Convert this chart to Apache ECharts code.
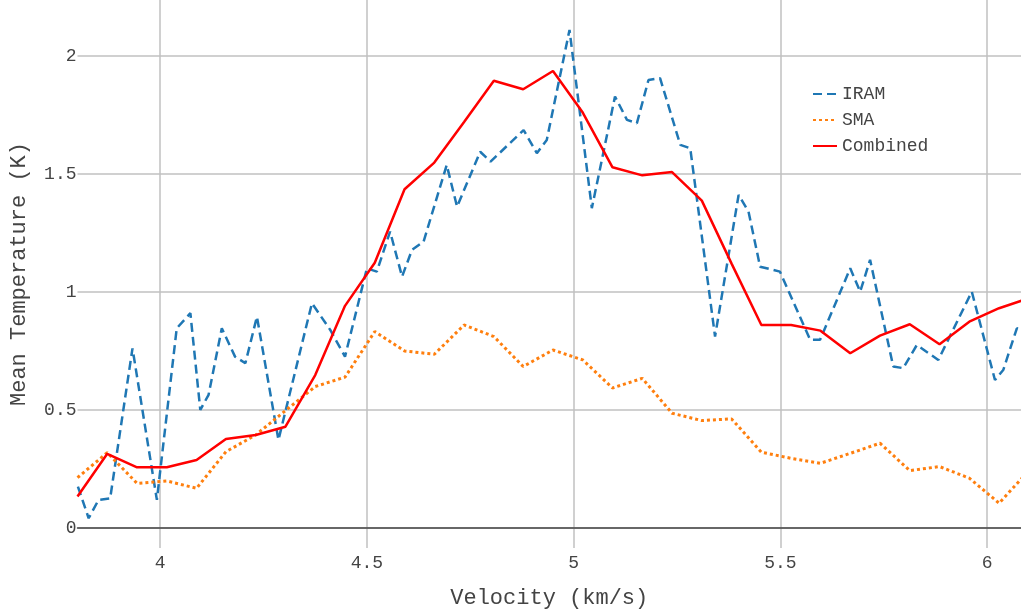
<!DOCTYPE html>
<html>
<head>
<meta charset="utf-8">
<script src="https://cdn.jsdelivr.net/npm/echarts@6/dist/echarts.min.js"></script>
<style>
  html, body { margin: 0; padding: 0; background: #fff; }
  #chart { width: 1021px; height: 613px; }
</style>
</head>
<body>
<div id="chart"></div>
<script>
// IRAM spectrum (finer channels): velocity (km/s) and mean temperature (K)
const iramVelocity = [3.801, 3.827, 3.851, 3.879, 3.933, 3.992, 4.040, 4.073, 4.097, 4.117,
  4.149, 4.181, 4.206, 4.234, 4.286, 4.367, 4.411, 4.447, 4.500, 4.524,
  4.556, 4.585, 4.609, 4.637, 4.693, 4.718, 4.774, 4.799, 4.879, 4.911,
  4.935, 4.990, 5.044, 5.100, 5.129, 5.153, 5.181, 5.209, 5.258, 5.282,
  5.342, 5.399, 5.423, 5.451, 5.499, 5.572, 5.596, 5.669, 5.693, 5.717,
  5.773, 5.797, 5.830, 5.882, 5.963, 6.019, 6.039, 6.072, 6.082];
const iramTemp = [0.175, 0.041, 0.119, 0.125, 0.761, 0.119, 0.846, 0.910, 0.500, 0.564,
  0.846, 0.726, 0.698, 0.895, 0.373, 0.952, 0.840, 0.726, 1.100, 1.086,
  1.256, 1.065, 1.178, 1.213, 1.538, 1.361, 1.594, 1.552, 1.686, 1.588,
  1.644, 2.110, 1.355, 1.828, 1.729, 1.715, 1.898, 1.906, 1.623, 1.609,
  0.811, 1.411, 1.340, 1.107, 1.086, 0.797, 0.797, 1.100, 1.001, 1.136,
  0.684, 0.677, 0.775, 0.712, 1.001, 0.627, 0.669, 0.846, 0.840];

// SMA and combined spectra share the coarser channel grid
const velocity = [3.800, 3.872, 3.944, 4.016, 4.088, 4.159, 4.231, 4.303, 4.375, 4.447,
  4.519, 4.591, 4.663, 4.735, 4.807, 4.878, 4.950, 5.022, 5.094, 5.166,
  5.238, 5.310, 5.382, 5.454, 5.526, 5.597, 5.669, 5.741, 5.813, 5.885,
  5.957, 6.029, 6.101];
const smaTemp = [0.213, 0.319, 0.189, 0.199, 0.168, 0.323, 0.394, 0.497, 0.599, 0.639,
  0.832, 0.750, 0.736, 0.860, 0.811, 0.684, 0.754, 0.712, 0.593, 0.634,
  0.486, 0.455, 0.462, 0.321, 0.295, 0.274, 0.316, 0.359, 0.243, 0.260,
  0.211, 0.105, 0.243];
const combinedTemp = [0.133, 0.314, 0.257, 0.257, 0.288, 0.377, 0.394, 0.429, 0.648, 0.941,
  1.124, 1.435, 1.548, 1.720, 1.895, 1.859, 1.936, 1.760, 1.528, 1.494,
  1.508, 1.387, 1.120, 0.860, 0.860, 0.836, 0.740, 0.815, 0.863, 0.778,
  0.874, 0.931, 0.973];

const seriesNames = ['IRAM', 'SMA', 'Combined'];

const pairs = (xs, ys) => xs.map((x, i) => [x, ys[i]]);

const FONT = '"Liberation Mono", "DejaVu Sans Mono", monospace';
const TEXT = '#444';
const GRID = '#c0c0c0';

const chart = echarts.init(document.getElementById('chart'), null, { renderer: 'canvas' });
chart.setOption({
  backgroundColor: '#fff',
  animation: false,
  textStyle: { fontFamily: FONT, color: TEXT },
  grid: { left: 77.5, right: 0, top: 0, bottom: 65, containLabel: false, outerBoundsMode: 'none' },
  legend: {
    data: seriesNames,
    orient: 'vertical',
    left: 807,
    top: 80,
    itemWidth: 24,
    itemHeight: 14,
    itemGap: 8,
    // line-only keys: the marker dot is made invisible
    itemStyle: { color: 'transparent', borderColor: 'transparent', borderWidth: 0 },
    textStyle: { fontFamily: FONT, fontSize: 18, color: TEXT }
  },
  xAxis: {
    type: 'value',
    min: 3.8,
    max: 6.082,
    minInterval: 0.5,
    maxInterval: 0.5,
    name: 'Velocity (km/s)',
    nameLocation: 'middle',
    nameGap: 39,
    nameTextStyle: { fontFamily: FONT, fontSize: 22, color: TEXT },
    axisLine: { show: true, onZero: true, lineStyle: { color: '#444', width: 1.5 } },
    axisTick: { show: false },
    axisLabel: { fontFamily: FONT, fontSize: 18, color: TEXT, margin: 6, showMinLabel: false, showMaxLabel: false },
    splitLine: { show: true, showMinLine: false, showMaxLine: false, lineStyle: { color: GRID, width: 1.5 } }
  },
  yAxis: {
    type: 'value',
    min: -0.085,
    max: 2.237,
    minInterval: 0.5,
    maxInterval: 0.5,
    name: 'Mean Temperature (K)',
    nameLocation: 'middle',
    nameRotate: 90,
    nameGap: 47,
    nameTextStyle: { fontFamily: FONT, fontSize: 22, color: TEXT },
    axisLine: { show: false, onZero: false },
    axisTick: { show: false },
    axisLabel: { fontFamily: FONT, fontSize: 18, color: TEXT, margin: 1, padding: [7, 0, 0, 0], showMinLabel: false, showMaxLabel: false },
    splitLine: { show: true, showMinLine: false, showMaxLine: false, lineStyle: { color: GRID, width: 1.5 } }
  },
  series: [
    {
      name: seriesNames[0],
      type: 'line',
      data: pairs(iramVelocity, iramTemp),
      symbol: 'none',
      color: '#1f77b4',
      lineStyle: { color: '#1f77b4', width: 2.5, type: [9, 5] },
      z: 3
    },
    {
      name: seriesNames[1],
      type: 'line',
      data: pairs(velocity, smaTemp),
      symbol: 'none',
      color: '#ff7f0e',
      lineStyle: { color: '#ff7f0e', width: 3, type: [3, 3] },
      z: 4
    },
    {
      name: seriesNames[2],
      type: 'line',
      data: pairs(velocity, combinedTemp),
      symbol: 'none',
      color: '#ff0000',
      lineStyle: { color: '#ff0000', width: 2.5, type: 'solid' },
      z: 5
    }
  ]
});
</script>
</body>
</html>
